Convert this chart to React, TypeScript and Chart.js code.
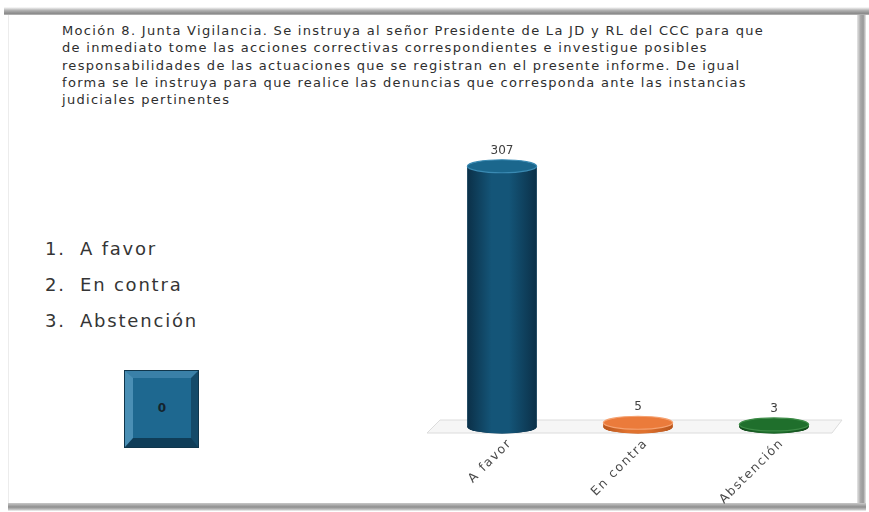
import React, { useEffect, useRef } from "react";
import { Chart, registerables } from "chart.js";

Chart.register(...registerables);

const categories = ["A favor", "En contra", "Abstención"];
const votes = [307, 5, 3];
const titleLines = [
  "Moción 8. Junta Vigilancia. Se instruya al señor Presidente de La JD y RL del CCC para que",
  "de inmediato tome las acciones correctivas correspondientes e investigue posibles",
  "responsabilidades de las actuaciones que se registran en el presente informe.  De igual",
  "forma se le instruya para que realice las denuncias que corresponda ante las instancias",
  "judiciales pertinentes",
];
const optionsList = ["A favor", "En contra", "Abstención"];
const counterValue = "0";

const bodyColors = ["#145578", "#e0722f", "#1d6a2a"];
const edgeColors = ["#0b3048", "#b9561c", "#114a1a"];
const topColors = ["#1b678d", "#eb7b3b", "#1f6f2c"];
const rimColors = ["#3a8ab3", "#f5a271", "#3d8c47"];

const RY = 6.5;
const FONT = "'DejaVu Sans', 'Liberation Sans', Arial, sans-serif";

const cylinderPlugin = {
  id: "cylinders",
  beforeDraw(chart: any) {
    (chart.ctx as any).letterSpacing = "1.6px";
  },
  beforeDatasetsDraw(chart: any) {
    const ctx = chart.ctx;
    (ctx as any).letterSpacing = "0px";
    const ca = chart.chartArea;
    const y0 = chart.scales.y.getPixelForValue(0);
    // floor plane
    ctx.save();
    ctx.beginPath();
    ctx.moveTo(ca.left + 6, y0 - 7);
    ctx.lineTo(ca.right, y0 - 7);
    ctx.lineTo(ca.right - 10, y0 + 6);
    ctx.lineTo(ca.left - 7, y0 + 6);
    ctx.closePath();
    ctx.fillStyle = "#f6f6f6";
    ctx.fill();
    ctx.strokeStyle = "#dcdcdc";
    ctx.lineWidth = 1;
    ctx.stroke();
    // bottom ellipses
    const meta = chart.getDatasetMeta(0);
    meta.data.forEach((bar: any, i: number) => {
      const p = bar.getProps(["x", "y", "base", "width"], true);
      ctx.beginPath();
      ctx.ellipse(p.x, p.base, p.width / 2, RY, 0, 0, Math.PI * 2);
      ctx.fillStyle = edgeColors[i];
      ctx.fill();
    });
    ctx.restore();
  },
  afterDatasetsDraw(chart: any) {
    const ctx = chart.ctx;
    const meta = chart.getDatasetMeta(0);
    ctx.save();
    meta.data.forEach((bar: any, i: number) => {
      const p = bar.getProps(["x", "y", "base", "width"], true);
      const rx = p.width / 2;
      const g = ctx.createLinearGradient(p.x - rx, 0, p.x + rx, 0);
      g.addColorStop(0, edgeColors[i]);
      g.addColorStop(0.35, bodyColors[i]);
      g.addColorStop(0.6, bodyColors[i]);
      g.addColorStop(1, edgeColors[i]);
      ctx.fillStyle = g;
      ctx.fillRect(p.x - rx, p.y, p.width, p.base - p.y);
      ctx.beginPath();
      ctx.ellipse(p.x, p.base, rx, RY, 0, 0, Math.PI);
      ctx.fill();
      // top ellipse
      ctx.beginPath();
      ctx.ellipse(p.x, p.y, rx, RY, 0, 0, Math.PI * 2);
      ctx.fillStyle = topColors[i];
      ctx.fill();
      ctx.strokeStyle = rimColors[i];
      ctx.lineWidth = 1.2;
      ctx.stroke();
      // value label
      ctx.fillStyle = "#404040";
      ctx.font = "12px " + FONT;
      ctx.textAlign = "center";
      ctx.textBaseline = "alphabetic";
      ctx.fillText(String(votes[i]), p.x, p.y - RY - 6);
    });
    ctx.restore();
  },
};

function VoteChart() {
  const ref = useRef<HTMLCanvasElement | null>(null);
  useEffect(() => {
    if (!ref.current) return;
    const chart = new Chart(ref.current, {
      type: "bar",
      data: {
        labels: categories,
        datasets: [
          {
            data: votes,
            backgroundColor: bodyColors,
            borderWidth: 0,
            categoryPercentage: 1,
            barPercentage: 0.51,
          },
        ],
      },
      options: {
        responsive: false,
        animation: false,
        devicePixelRatio: 1,
        layout: { padding: { left: 434, right: 27, top: 100, bottom: 0 } },
        plugins: {
          legend: { display: false },
          tooltip: { enabled: false },
          title: { display: false },
        },
        scales: {
          x: {
            grid: { display: false, drawTicks: false },
            border: { display: false },
            afterFit: (scale: any) => {
              scale.height = 85;
            },
            ticks: {
              minRotation: 45,
              maxRotation: 45,
              padding: 9,
              labelOffset: 8,
              color: "#4a4a4a",
              font: { size: 12.5, family: FONT },
            },
          },
          y: { display: false, min: 0, max: 385 },
        },
      },
      plugins: [cylinderPlugin],
    });
    return () => chart.destroy();
  }, []);
  return (
    <canvas
      ref={ref}
      width={869}
      height={512}
      style={{ position: "absolute", left: 0, top: 0, width: 869, height: 512 }}
    />
  );
}

export default function App() {
  return (
    <div
      style={{
        position: "fixed",
        left: 0,
        top: 0,
        width: 869,
        height: 512,
        background: "#ffffff",
        overflow: "hidden",
        fontFamily: FONT,
      }}
    >
      {/* slide frame shadows */}
      <div
        style={{
          position: "absolute",
          left: 4,
          top: 7,
          width: 865,
          height: 8,
          background: "linear-gradient(#ffffff, #b5b5b5 40%, #8a8a8a 80%, #bdbdbd)",
        }}
      />
      <div
        style={{
          position: "absolute",
          left: 857,
          top: 15,
          width: 9,
          height: 494,
          background: "linear-gradient(90deg, #e6e6e6, #a8a8a8 40%, #9a9a9a 70%, #e8e8e8)",
        }}
      />
      <div
        style={{
          position: "absolute",
          left: 8,
          top: 503,
          width: 858,
          height: 8,
          background: "linear-gradient(#c8c8c8, #8e8e8e 50%, #bfbfbf 80%, #f4f4f4)",
        }}
      />
      <div
        style={{
          position: "absolute",
          left: 8,
          top: 15,
          width: 1,
          height: 488,
          background: "#ececec",
        }}
      />
      {/* title */}
      <div
        style={{
          position: "absolute",
          left: 62,
          top: 22,
          fontSize: 13,
          lineHeight: "17.3px",
          color: "#2e2e2e",
          letterSpacing: "1.3px",
          whiteSpace: "nowrap",
        }}
      >
        {titleLines.map((l, i) => (
          <div key={i}>{l}</div>
        ))}
      </div>
      {/* options list */}
      <div
        style={{
          position: "absolute",
          left: 45,
          top: 231,
          fontSize: 18,
          lineHeight: "36px",
          color: "#353535",
          letterSpacing: "1.8px",
        }}
      >
        {optionsList.map((o, i) => (
          <div key={i} style={{ display: "flex" }}>
            <span style={{ width: 35, display: "inline-block" }}>{i + 1}.</span>
            <span>{o}</span>
          </div>
        ))}
      </div>
      {/* counter box */}
      <div
        style={{
          position: "absolute",
          left: 125,
          top: 371,
          width: 73,
          height: 76,
          boxSizing: "border-box",
          background: "#1e6890",
          borderStyle: "solid",
          borderWidth: "7px 7px 9px 8px",
          borderTopColor: "#3a80a8",
          borderLeftColor: "#4a8fb5",
          borderBottomColor: "#0f3d58",
          borderRightColor: "#144a69",
          outline: "1px solid #10364c",
          display: "flex",
          alignItems: "center",
          justifyContent: "center",
          fontSize: 12,
          fontWeight: "bold",
          color: "#14232d",
        }}
      >
        {counterValue}
      </div>
      <VoteChart />
    </div>
  );
}
